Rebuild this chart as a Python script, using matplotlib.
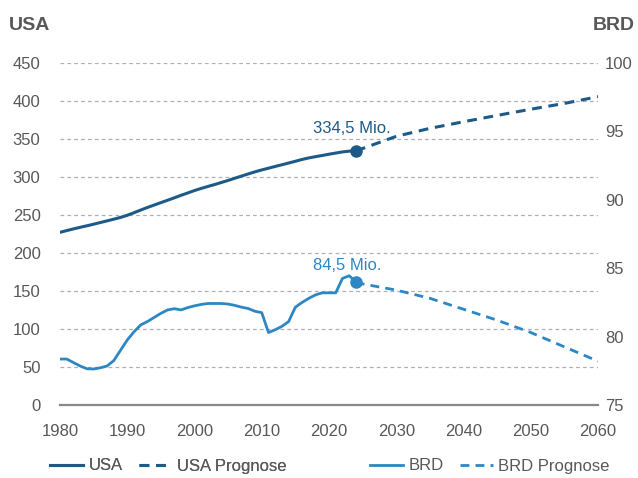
import matplotlib
matplotlib.use("Agg")
import matplotlib.pyplot as plt

plt.rcParams["font.family"] = ["Liberation Sans", "DejaVu Sans"]

# data (Mio. Einwohner)
years = list(range(1980, 2025))
usa = [
    227.2, 229.5, 231.7, 233.8, 235.8, 237.9, 240.1, 242.3, 244.5, 246.8,
    249.6, 253.0, 256.5, 259.9, 263.1, 266.3, 269.4, 272.6, 275.9, 279.0,
    282.2, 285.0, 287.6, 290.1, 292.8, 295.5, 298.4, 301.2, 304.1, 306.8,
    309.3, 311.6, 313.9, 316.1, 318.4, 320.7, 323.1, 325.1, 326.8, 328.3,
    330.0, 331.5, 333.0, 334.0, 334.5,
]
brd = [
    78.36, 78.36, 78.10, 77.85, 77.65, 77.63, 77.72, 77.85, 78.25, 79.00,
    79.75, 80.35, 80.85, 81.10, 81.40, 81.70, 81.95, 82.04, 81.95, 82.12,
    82.25, 82.35, 82.42, 82.42, 82.42, 82.38, 82.28, 82.15, 82.05, 81.85,
    81.75, 80.30, 80.50, 80.75, 81.10, 82.15, 82.50, 82.80, 83.05, 83.20,
    83.20, 83.20, 84.25, 84.45, 84.00,
]
prog_years = [2024, 2025, 2030, 2035, 2040, 2045, 2050, 2055, 2060]
usa_prog = [334.5, 337.5, 353.5, 364.0, 372.7, 381.0, 389.2, 396.8, 405.7]
brd_prog = [84.00, 83.85, 83.40, 82.80, 82.00, 81.20, 80.30, 79.25, 78.20]

usa_label = "334,5 Mio."
brd_label = "84,5 Mio."

USA_COLOR = "#1d5a87"
BRD_COLOR = "#2d87c3"
TEXT_COLOR = "#585858"
GRID_COLOR = "#b0b0b0"
DASHES = (0, (3.2, 2.2))

fig = plt.figure(figsize=(6.38, 4.78), dpi=100)
ax = fig.add_axes([60 / 638, 1 - 405 / 478, 538 / 638, 342 / 478])
ax2 = ax.twinx()

# left axis: USA
ax.plot(years, usa, color=USA_COLOR, linewidth=2.2, label="USA")
ax.plot(prog_years, usa_prog, color=USA_COLOR, linewidth=2.2,
        linestyle=DASHES, label="USA Prognose")
ax.plot([years[-1]], [usa[-1]], "o", color=USA_COLOR, markersize=8)
ax.annotate(usa_label, (years[-1], usa[-1]), xytext=(-3, 16),
            textcoords="offset points", ha="center", va="center",
            fontsize=12, color=USA_COLOR)

# right axis: BRD
ax2.plot(years, brd, color=BRD_COLOR, linewidth=2.0, label="BRD")
ax2.plot(prog_years, brd_prog, color=BRD_COLOR, linewidth=2.0,
         linestyle=DASHES, label="BRD Prognose")
ax2.plot([years[-1]], [brd[-1]], "o", color=BRD_COLOR, markersize=8)
ax2.annotate(brd_label, (years[-1], brd[-1]), xytext=(-6, 12),
             textcoords="offset points", ha="center", va="center",
             fontsize=12, color=BRD_COLOR)

ax.set_xlim(1980, 2060)
ax.set_ylim(0, 450)
ax2.set_ylim(75, 100)
ax.set_xticks(range(1980, 2061, 10))
ax.set_yticks(range(0, 451, 50))
ax2.set_yticks(range(75, 101, 5))

for a in (ax, ax2):
    for side in ("top", "left", "right", "bottom"):
        a.spines[side].set_visible(False)
ax.spines["bottom"].set_visible(True)
ax.spines["bottom"].set_color("#888888")
ax.spines["bottom"].set_linewidth(1.6)

ax.tick_params(axis="y", length=0, pad=14, labelsize=12, labelcolor=TEXT_COLOR)
ax.tick_params(axis="x", length=0, pad=14, labelsize=12, labelcolor=TEXT_COLOR)
ax2.tick_params(axis="y", length=0, pad=5, labelsize=12, labelcolor=TEXT_COLOR)

for v in range(50, 451, 50):
    ax.axhline(v, color=GRID_COLOR, linewidth=0.9, linestyle=(0, (3, 2.5)), zorder=0)

fig.text(9 / 638, 1 - 25 / 478, "USA", fontsize=14, fontweight="bold",
         color=TEXT_COLOR, ha="left", va="center")
fig.text(635 / 638, 1 - 25 / 478, "BRD", fontsize=14, fontweight="bold",
         color=TEXT_COLOR, ha="right", va="center")

h1, l1 = ax.get_legend_handles_labels()
h2, l2 = ax2.get_legend_handles_labels()
leg_kw = dict(frameon=False, ncol=2, fontsize=12, handlelength=2.0,
              handletextpad=0.3, columnspacing=1.0, borderpad=0,
              borderaxespad=0, loc="center left", labelcolor=TEXT_COLOR)
leg1 = fig.legend(h1, l1, bbox_to_anchor=(50 / 638, 1 - 466 / 478), **leg_kw)
fig.add_artist(leg1)
fig.legend(h2, l2, bbox_to_anchor=(370 / 638, 1 - 466 / 478), **leg_kw)

fig.savefig("out.png", dpi=100)
